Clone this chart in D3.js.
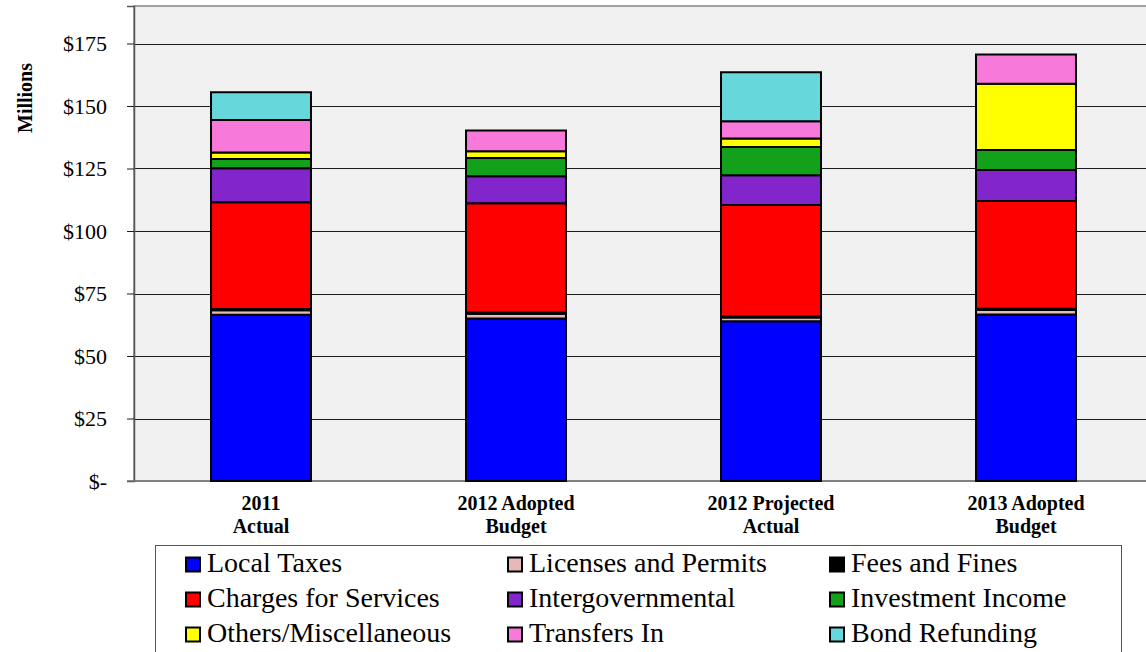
<!DOCTYPE html>
<html>
<head>
<meta charset="utf-8">
<script src="https://cdn.jsdelivr.net/npm/d3@7"></script>
<style>
  html, body { margin: 0; padding: 0; background: #ffffff; }
  svg { display: block; }
  text { font-family: "Liberation Serif", "Times New Roman", serif; }
</style>
</head>
<body>
<svg id="chart" width="1146" height="652"></svg>
<script>
// Revenue by source, in millions of dollars
const categories = ["2011|Actual", "2012 Adopted|Budget", "2012 Projected|Actual", "2013 Adopted|Budget"];
const seriesNames = [
  "Local Taxes", "Licenses and Permits", "Fees and Fines",
  "Charges for Services", "Intergovernmental", "Investment Income",
  "Others/Miscellaneous", "Transfers In", "Bond Refunding"
];
const localTaxes          = [66.5, 65.0, 63.9, 66.6];
const licensesPermits     = [1.8, 1.9, 1.5, 1.8];
const feesFines           = [0.5, 0.5, 0.4, 0.5];
const chargesForServices  = [42.7, 43.7, 44.6, 43.1];
const intergovernmental   = [13.6, 10.8, 11.9, 12.4];
const investmentIncome    = [3.7, 7.3, 11.3, 8.0];
const othersMisc          = [2.6, 2.7, 3.4, 26.5];
const transfersIn         = [13.0, 8.3, 6.9, 11.7];
const bondRefunding       = [11.1, 0, 19.6, 0];
const yTicks = [0, 25, 50, 75, 100, 125, 150, 175];
const yTickLabels = ["$-", "$25", "$50", "$75", "$100", "$125", "$150", "$175"];

const seriesValues = [localTaxes, licensesPermits, feesFines, chargesForServices,
  intergovernmental, investmentIncome, othersMisc, transfersIn, bondRefunding];
const colors = ["#0000ff", "#e6b9b8", "#000000", "#ff0000", "#8226cc",
  "#13a01a", "#ffff00", "#f779d9", "#66d8dc"];

const rows = categories.map((c, i) => {
  const r = { category: c };
  seriesNames.forEach((s, k) => { r[s] = seriesValues[k][i]; });
  return r;
});

const svg = d3.select("#chart");
const plot = { left: 134, top: 6, right: 1154, bottom: 481 };

const x = d3.scaleBand()
  .domain(categories)
  .range([plot.left - 0.5, plot.right - 0.5])
  .paddingInner(0.608)
  .paddingOuter(0.304);
const y = d3.scaleLinear().domain([0, 190]).range([plot.bottom, plot.top]);

// plot background and frame
svg.append("rect")
  .attr("x", plot.left).attr("y", plot.top)
  .attr("width", plot.right - plot.left).attr("height", plot.bottom - plot.top)
  .attr("fill", "#f0f0f0")
  .attr("stroke", "#858585").attr("stroke-width", 1.5);

// horizontal gridlines
svg.append("g")
  .selectAll("line")
  .data(yTicks.filter(d => d > 0))
  .join("line")
  .attr("x1", plot.left).attr("x2", plot.right)
  .attr("y1", d => Math.round(y(d)) + 0.5).attr("y2", d => Math.round(y(d)) + 0.5)
  .attr("stroke", "#1a1a1a").attr("stroke-width", 1);

// y axis
const yAxis = d3.axisLeft(y)
  .tickValues(yTicks)
  .tickFormat((d, i) => yTickLabels[i])
  .tickSize(7)
  .tickPadding(20);
const gy = svg.append("g")
  .attr("transform", `translate(${plot.left},0)`)
  .call(yAxis);
gy.select(".domain").attr("stroke", "#555555").attr("stroke-width", 1.5);
gy.selectAll(".tick line").attr("stroke", "#1a1a1a");
gy.selectAll(".tick text")
  .attr("font-size", 22)
  .attr("fill", "#000");

// bottom axis line
svg.append("line")
  .attr("x1", plot.left - 7).attr("x2", plot.right)
  .attr("y1", plot.bottom).attr("y2", plot.bottom)
  .attr("stroke", "#777777").attr("stroke-width", 1.5);

// y axis title
svg.append("text")
  .attr("transform", `translate(32,98) rotate(-90)`)
  .attr("text-anchor", "middle")
  .attr("font-size", 20)
  .attr("font-weight", "bold")
  .text("Millions");

// stacked bars
const stack = d3.stack().keys(seriesNames);
const layers = stack(rows);
svg.append("g")
  .selectAll("g")
  .data(layers)
  .join("g")
  .attr("fill", (d, i) => colors[i])
  .selectAll("rect")
  .data(d => d.filter(p => p[1] - p[0] > 0))
  .join("rect")
  .attr("x", d => x(d.data.category))
  .attr("width", x.bandwidth())
  .attr("y", d => y(d[1]))
  .attr("height", d => y(d[0]) - y(d[1]))
  .attr("stroke", "#000")
  .attr("stroke-width", 2);

// category labels (two lines each)
const xl = svg.append("g")
  .selectAll("text")
  .data(categories)
  .join("text")
  .attr("x", d => x(d) + x.bandwidth() / 2)
  .attr("y", 509.5)
  .attr("text-anchor", "middle")
  .attr("font-size", 20)
  .attr("font-weight", "bold");
xl.selectAll("tspan")
  .data(d => d.split("|"))
  .join("tspan")
  .attr("x", function () { return d3.select(this.parentNode).attr("x"); })
  .attr("dy", (d, i) => i === 0 ? 0 : 23.5)
  .text(d => d);

// legend
const legend = svg.append("g");
legend.append("rect")
  .attr("x", 155.5).attr("y", 545.5)
  .attr("width", 966).attr("height", 120)
  .attr("fill", "#ffffff")
  .attr("stroke", "#555555").attr("stroke-width", 1);

const colX = [186, 508, 830];
const rowY = [564.5, 599.5, 634.5];
const items = legend.selectAll("g.item")
  .data(seriesNames)
  .join("g")
  .attr("class", "item")
  .attr("transform", (d, i) => `translate(${colX[i % 3]},${rowY[Math.floor(i / 3)]})`);
items.append("rect")
  .attr("x", 0).attr("y", -7)
  .attr("width", 14).attr("height", 14)
  .attr("fill", (d, i) => colors[i])
  .attr("stroke", "#000").attr("stroke-width", 2);
items.append("text")
  .attr("x", 21).attr("y", 7)
  .attr("font-size", 28)
  .text(d => d);
</script>
</body>
</html>
